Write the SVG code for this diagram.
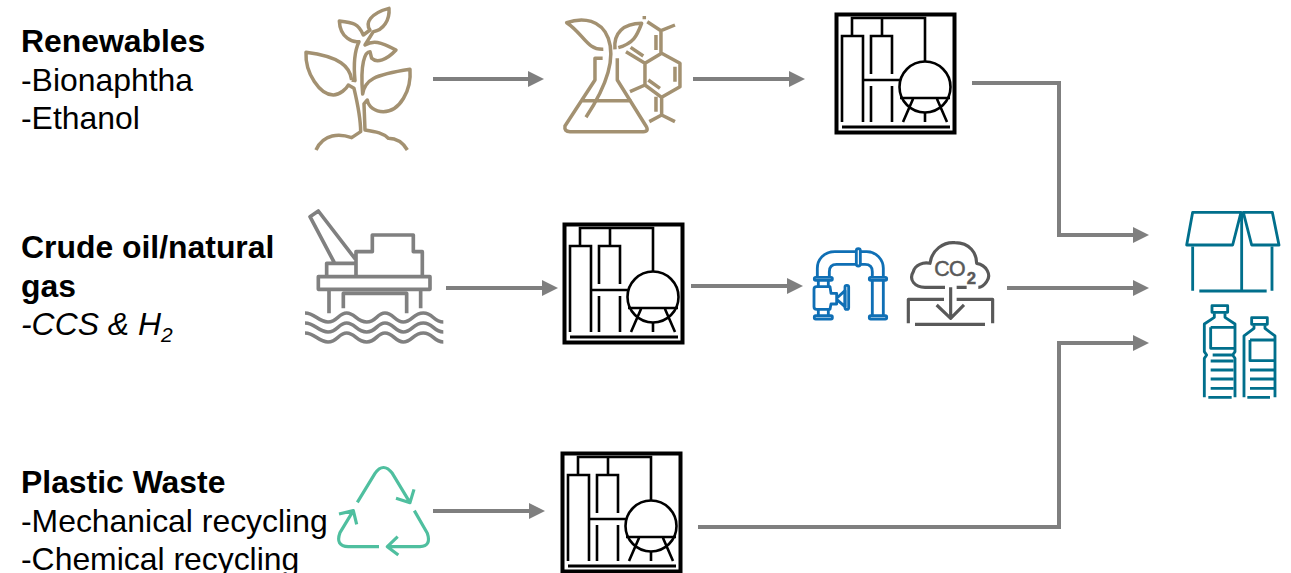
<svg xmlns="http://www.w3.org/2000/svg" xmlns:xlink="http://www.w3.org/1999/xlink" width="1291" height="573" viewBox="0 0 1291 573">
<style>
text{font-family:"Liberation Sans",Arial,sans-serif;font-size:31.9px;fill:#000}
.b{font-weight:bold}.i{font-style:italic}
.ln{fill:none;stroke-linecap:butt;stroke-linejoin:round}
.tan{stroke:#a39171;stroke-width:10.5}
.oil{stroke:#808080;stroke-width:11}
.blue{stroke:#0f6fb5;stroke-width:8.5}
.co2{stroke:#595959;stroke-width:9.5}
.teal{stroke:#006f8c;stroke-width:8.5}
.green{stroke:#4fbf9f;stroke-width:9.5}
.conn{fill:none;stroke:#7f7f7f;stroke-width:4;marker-end:url(#a)}
.plant{fill:none;stroke:#000;stroke-width:2.6}
</style>
<defs>
<marker id="a" markerUnits="userSpaceOnUse" markerWidth="17" markerHeight="18" refX="8" refY="9" orient="auto"><path d="M0 1L16 9L0 17Z" fill="#7f7f7f"/></marker>
<g id="refinery">
<rect x="1.5" y="1.5" width="118" height="118" fill="#fff" stroke="#000" stroke-width="4"/>
<path class="plant" d="M17 23V5H90V49M47 5V23M7 109V23H28V109M36 61V23H57V61M36 73V109M57 73V109M28 67H65M65 85H115M78 86L68 109M102 86L112 109M90 100V109"/>
<circle class="plant" cx="90" cy="74" r="25.5"/>
<path d="M7 114H115" stroke="#000" stroke-width="3" fill="none"/>
</g>
</defs>

<g id="connectors">
<path class="conn" d="M433 79H536"/>
<path class="conn" d="M693 79H797"/>
<path class="conn" d="M972 83H1059V235H1141"/>
<path class="conn" d="M446 288H550"/>
<path class="conn" d="M691 286H795"/>
<path class="conn" d="M1007 288H1141"/>
<path class="conn" d="M433 511H537"/>
<path class="conn" d="M698 527H1059V343H1141"/>
</g>

<g id="label-renewables">
<text class="b" x="21" y="52">Renewables</text>
<text x="21" y="91">-Bionaphtha</text>
<text x="21" y="129">-Ethanol</text>
</g>
<g id="label-crude">
<text class="b" x="21" y="258">Crude oil/natural</text>
<text class="b" x="21" y="297">gas</text>
<text class="i" x="21" y="335">-CCS &amp; H<tspan font-size="21" dy="7">2</tspan></text>
</g>
<g id="label-waste">
<text class="b" x="21" y="493">Plastic Waste</text>
<text x="21" y="532">-Mechanical recycling</text>
<text x="21" y="570">-Chemical recycling</text>
</g>

<g id="plant-icon" transform="translate(290 0) scale(.3333)">
<path class="ln tan" d="M185 240C180 200 150 170 48 157C45 220 90 285 130 285C150 285 170 265 175 255L192 265C205 320 212 360 212 395L185 413C150 400 100 400 78 450"/>
<path class="ln tan" d="M185 240L195 242C190 190 195 150 207 125C190 128 150 115 148 63C190 68 205 70 220 105L240 90C225 70 240 40 297 25C300 60 280 90 250 95L225 135C250 120 270 125 318 150C290 180 260 190 245 175L240 155C225 155 210 190 218 282C225 240 250 225 360 208C365 270 330 335 280 335C255 335 235 320 232 300L222 312L225 390C260 395 280 400 295 415C320 415 340 430 352 450"/>
</g>

<g id="flask-icon" transform="translate(290 0) scale(.3333)">
<path class="ln tan" d="M940 148C890 150 880 100 830 68C880 50 935 60 955 115C975 170 955 250 888 352"/>
<path class="ln tan" d="M975 148C970 100 1000 70 1055 70C1040 110 1030 130 985 143"/>
<path class="ln tan" d="M938 175H915V240L825 378Q822 395 840 395H1060Q1078 395 1068 378L982 240V175M875 302H1025"/>
<path class="ln tan" d="M1063 48V58M1072 65L1113 92L1155 75M1113 92V160M1098 105V150M1008 155L1065 190M1022 142L1060 168M1065 190L1115 160L1170 190V260L1115 292L1065 255V190M1155 200V245M1065 255L1020 275M1075 240L1110 265M1115 292V345L1155 365M1115 345L1078 365M1098 290V335"/>
</g>

<g id="refinery-1"><use xlink:href="#refinery" href="#refinery" x="835" y="13"/></g>

<g id="platform-icon" transform="translate(295 200) scale(.3333)">
<path class="ln oil" d="M118 188L45 50L70 33L183 180M95 228V190H183V228M183 228V155H232V105H355V155H382V228M70 230H405V268H70ZM102 268V340M145 325V280H335V340M377 268V325"/>
<path class="ln oil" d="M30 339C60 339 70 366 99 366S130 339 155 339S185 366 215 366S245 339 270 339S300 366 325 366S355 339 385 339S415 366 445 366"/>
<path class="ln oil" d="M30 369C60 369 70 396 99 396S130 369 155 369S185 396 215 396S245 369 270 369S300 396 325 396S355 369 385 369S415 396 445 396"/>
<path class="ln oil" d="M30 399C60 399 70 426 99 426S130 399 155 399S185 426 215 426S245 399 270 399S300 426 325 426S355 399 385 399S415 426 445 426"/>
</g>

<g id="refinery-2"><use xlink:href="#refinery" href="#refinery" x="563" y="223"/></g>

<g id="pipe-icon" transform="translate(800 230) scale(.3333)">
<path class="ln blue" d="M52 142V115C52 90 70 65 105 65H168M88 142V125Q88 103 110 103H168M182 65H200C230 65 250 90 250 115V142M182 103H195Q217 103 217 125V142M217 150V255M250 150V255M55 150V168M85 150V168M55 238V255M85 238V255"/>
<rect class="ln blue" x="169" y="56" width="12" height="52" rx="6"/>
<rect class="ln blue" x="43" y="142" width="54" height="9" rx="4"/>
<rect class="ln blue" x="208" y="142" width="52" height="9" rx="4"/>
<rect class="ln blue" x="43" y="257" width="54" height="10" rx="4"/>
<rect class="ln blue" x="208" y="257" width="52" height="10" rx="4"/>
<path class="ln blue" d="M50 170H90L93 190H110V222H93L90 238H50Q42 238 42 230V178Q42 170 50 170ZM110 205L135 182V230L110 208"/>
<rect class="ln blue" x="135" y="166" width="11" height="72" rx="5"/>
</g>

<g id="co2-icon" transform="translate(800 230) scale(.3333)">
<path class="ln co2" d="M435 172H375C345 172 325 150 340 125C345 105 370 95 390 100C395 60 430 35 465 38C510 38 530 70 530 100C560 105 575 135 560 155C550 170 540 172 535 172M470 172H500"/>
<path class="ln co2" d="M452 172V262M410 225L452 265L492 225M325 280V208H432M470 208H578V280M345 283H555"/>
<text x="403" y="138" letter-spacing="-2" stroke="#595959" stroke-width="1.5" style="font-size:64px;fill:#595959">CO<tspan x="500" y="161" letter-spacing="0" style="font-size:50px;font-weight:bold">2</tspan></text>
</g>

<g id="box-icon" transform="translate(1170 200) scale(.3333)">
<path class="ln teal" d="M68 37H213L188 135H50ZM220 37H307L327 135H245ZM215 40V272M68 140V272M306 140V272M88 273H290"/>
</g>

<g id="bottles-icon" transform="translate(1170 200) scale(.3333)">
<rect class="ln teal" x="126" y="317" width="47" height="20"/>
<path class="ln teal" d="M133 340V352L103 372V455L110 465L103 475V592M165 340V352L195 372V455L188 465L195 475V592M122 382H193M122 382V445H193M128 465H190M122 483H190M122 510H190M122 537H190M122 565H190M115 592H185"/>
<rect class="ln teal" x="245" y="353" width="47" height="20"/>
<path class="ln teal" d="M252 376V385L222 408V592M285 376V385L315 408V592M240 420H315M240 420V482H315M240 510H312M240 537H312M240 565H312M232 592H300"/>
</g>

<g id="recycle-icon" transform="translate(330 460) scale(.3333)">
<path class="ln green" d="M82 127L135 40Q160 5 187 40L240 128M198 115L240 128L252 88M253 152L292 220Q305 258 270 260H175M203 230L172 260L205 285M147 260H55Q15 258 30 218L70 152M27 162L70 152L80 193"/>
</g>

<g id="refinery-3"><use xlink:href="#refinery" href="#refinery" x="561" y="452"/></g>
</svg>
